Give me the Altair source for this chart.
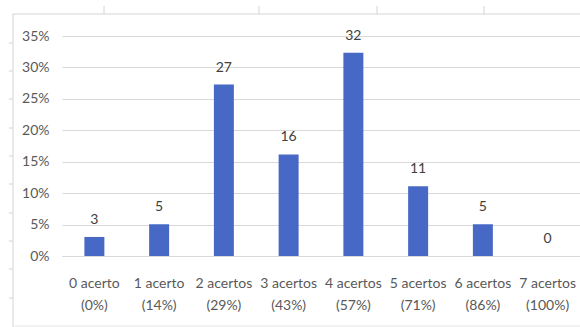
import altair as alt
import pandas as pd

# Respostas por número de acertos
categorias = ["0 acerto", "1 acerto", "2 acertos", "3 acertos",
              "4 acertos", "5 acertos", "6 acertos", "7 acertos"]
aproveitamento = ["(0%)", "(14%)", "(29%)", "(43%)", "(57%)", "(71%)", "(86%)", "(100%)"]
quantidades = [3, 5, 27, 16, 32, 11, 5, 0]
y_ticks = [0, 0.05, 0.10, 0.15, 0.20, 0.25, 0.30, 0.35]

total = sum(quantidades)
df = pd.DataFrame({
    "cat": [f"{c}|{a}" for c, a in zip(categorias, aproveitamento)],
    "qtd": quantidades,
    "pct": [q / total for q in quantidades],
})

FONT = "Lato"
FS = 14
W, H = 518, 220
GRID = "#d9d9d9"

x = alt.X("cat:N", sort=None, title=None,
          scale=alt.Scale(paddingInner=0.0, paddingOuter=0.0),
          axis=alt.Axis(labelExpr="split(datum.label, '|')", labelAngle=0,
                        labelFont=FONT, labelFontSize=FS, labelColor="#595959",
                        labelLineHeight=22, labelPadding=20, ticks=False,
                        domainColor=GRID, grid=False))
y = alt.Y("pct:Q", title=None,
          scale=alt.Scale(domain=[0, 0.35], nice=False),
          axis=alt.Axis(values=y_ticks, format=".0%", labelFont=FONT,
                        labelFontSize=FS, labelColor="#595959", labelPadding=13,
                        ticks=False, domain=False, gridColor=GRID))

base = alt.Chart(df)
bars = base.mark_bar(color="#4868c6", size=20).encode(x=x, y=y)
labels = base.mark_text(dy=-10, baseline="bottom", font=FONT, fontSize=FS,
                        color="#404040").encode(x=x, y=y, text="qtd:Q")

# Bordas de células da planilha ao redor do gráfico
frame_color = "#d4d4d4"
sheet_cols = [42, 197, 315, 422]
sheet_rows = [7, 35, 63, 92, 120, 148, 177, 205, 233, 262]
deco = pd.DataFrame({"k": [0]})
edges = [
    alt.Chart(deco).mark_rule(color=frame_color).encode(
        x=alt.value(-49), y=alt.value(-22), y2=alt.value(291)),
    alt.Chart(deco).mark_rule(color=frame_color).encode(
        x=alt.value(-49), x2=alt.value(W), y=alt.value(-22)),
    alt.Chart(deco).mark_rule(color="#e6e6e6").encode(
        x=alt.value(-49), x2=alt.value(W), y=alt.value(290)),
]
for cx in sheet_cols:
    edges.append(alt.Chart(deco).mark_rule(color=frame_color).encode(
        x=alt.value(cx), y=alt.value(-30), y2=alt.value(-22)))
for ry in sheet_rows:
    edges.append(alt.Chart(deco).mark_rule(color=frame_color).encode(
        x=alt.value(-53), x2=alt.value(-49), y=alt.value(ry)))

chart = alt.layer(bars, labels, *edges).properties(
    width=W, height=H,
    autosize=alt.AutoSizeParams(type="none"),
    padding={"left": 62, "top": 36, "right": 0, "bottom": 71},
    background="white",
).configure_view(stroke=None)

chart.save("out.html", embed_options={"renderer": "svg", "actions": False})
